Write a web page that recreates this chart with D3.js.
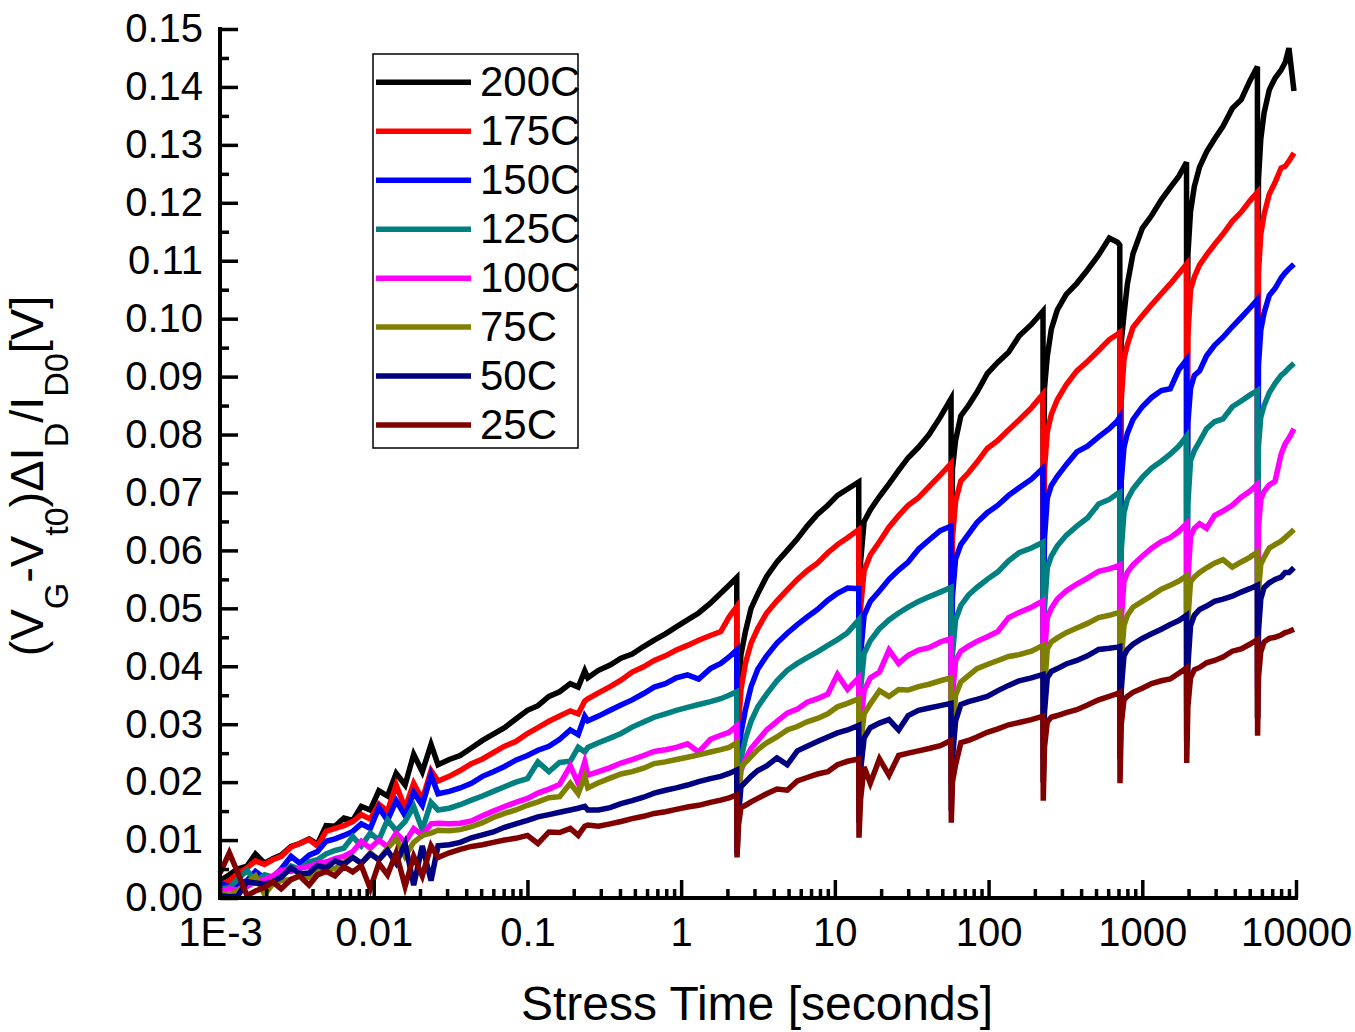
<!DOCTYPE html>
<html>
<head>
<meta charset="utf-8">
<script src="https://cdn.jsdelivr.net/npm/d3@7"></script>
<style>
  body { margin: 0; background: #fff; }
  text { font-family: "Liberation Sans", Arial, sans-serif; fill: #000; }
</style>
</head>
<body>
<svg id="chart" width="1355" height="1032"></svg>
<script>
// stress time grid shared by all curves (seconds)
const stressTime = [
  0.001,0.00115,0.0013,0.0015,0.0017,0.00195,0.0022,0.0025,0.0029,0.0033,0.0038,0.0043,0.0049,0.0056,0.0064,0.0073,0.0083,0.0095,0.0108,0.0123,0.014,0.016,0.0182,0.0207,0.0236,
  0.0262,0.031,0.0365,0.0432,0.051,0.06,0.071,0.084,0.1,0.117,0.138,0.162,0.19,0.214,0.236,
  0.247,0.29,0.345,0.406,0.48,0.57,0.668,0.79,0.93,1.1,1.3,1.55,1.81,2.05,2.3,
  2.31,2.36,2.45,2.62,2.85,3.15,3.6,4.2,4.9,5.7,6.6,7.7,9.0,10.4,12.1,14.3,
  14.35,14.7,15.5,17,19.5,22.5,26,30,35,41,48.5,57,
  57.2,58.2,61,66,74,84,98,115,135,158,190,226,
  226.8,231,241,256,280,320,375,440,520,610,690,714,
  716,730,760,800,870,1000,1150,1330,1520,1730,1940,
  1945,1980,2060,2180,2360,2620,2950,3350,3850,4400,5000,5610,
  5625,5700,5900,6200,6700,7300,8000,8500,9000,9700
];

const v200C = [
  .0030,.0040,.0050,.0055,.0076,.0060,.0068,.0074,.0089,.0094,.0102,.0093,.0125,.0124,.0138,.0134,.0158,.0152,.0185,.0176,.0215,.0195,.0248,.0218,.0265,
  .0230,.0239,.0246,.0259,.0272,.0283,.0294,.0309,.0324,.0332,.0348,.0356,.0370,.0364,.0392,
  .0380,.0393,.0402,.0414,.0421,.0434,.0445,.0456,.0468,.0480,.0492,.0509,.0526,.0540,.0553,
  .0240,.0360,.0420,.0460,.0500,.0525,.0555,.0580,.0600,.0620,.0642,.0662,.0678,.0695,.0706,.0718,
  .0400,.0580,.0650,.0670,.0693,.0715,.0738,.0760,.0778,.0800,.0830,.0862,
  .0450,.0740,.0790,.0832,.0850,.0873,.0905,.0925,.0942,.0970,.0990,.1013,
  .0520,.0880,.0935,.0982,.1015,.1042,.1061,.1084,.1110,.1139,.1132,.1127,
  .0580,.0960,.1007,.1060,.1112,.1156,.1178,.1205,.1226,.1246,.1270,
  .0640,.1110,.1185,.1228,.1262,.1288,.1310,.1332,.1363,.1378,.1410,.1435,
  .0700,.1240,.1310,.1355,.1395,.1415,.1429,.1442,.1467,.1393
];
const v175C = [
  .0022,.0030,.0042,.0052,.0064,.0058,.0066,.0072,.0088,.0094,.0101,.0090,.0115,.0120,.0125,.0132,.0144,.0136,.0162,.0150,.0195,.0155,.0198,.0170,.0220,
  .0202,.0210,.0220,.0232,.0240,.0251,.0262,.0270,.0284,.0294,.0305,.0314,.0323,.0318,.0340,
  .0344,.0354,.0365,.0376,.0390,.0399,.0410,.0418,.0428,.0436,.0445,.0453,.0460,.0485,.0503,
  .0220,.0300,.0360,.0405,.0440,.0465,.0492,.0513,.0532,.0550,.0565,.0578,.0596,.0610,.0622,.0636,
  .0340,.0500,.0565,.0592,.0615,.0640,.0660,.0678,.0691,.0710,.0730,.0750,
  .0360,.0620,.0685,.0720,.0734,.0752,.0776,.0790,.0808,.0825,.0846,.0870,
  .0400,.0740,.0805,.0835,.0860,.0886,.0910,.0926,.0945,.0964,.0973,.0976,
  .0460,.0860,.0930,.0955,.0985,.1005,.1024,.1043,.1060,.1078,.1094,
  .0500,.0970,.1050,.1072,.1093,.1110,.1128,.1146,.1168,.1184,.1203,.1218,
  .0580,.1080,.1145,.1180,.1215,.1235,.1260,.1263,.1272,.1286
];
const v150C = [
  .0025,.0020,.0024,.0030,.0046,.0034,.0036,.0050,.0072,.0060,.0074,.0080,.0098,.0102,.0108,.0115,.0128,.0120,.0156,.0134,.0168,.0142,.0182,.0160,.0212,
  .0180,.0184,.0190,.0198,.0210,.0218,.0227,.0238,.0246,.0255,.0262,.0274,.0290,.0282,.0314,
  .0306,.0314,.0324,.0333,.0342,.0353,.0364,.0370,.0380,.0385,.0378,.0396,.0405,.0416,.0428,
  .0170,.0220,.0285,.0325,.0365,.0395,.0418,.0440,.0457,.0472,.0485,.0498,.0514,.0526,.0535,.0534,
  .0270,.0420,.0488,.0512,.0530,.0550,.0566,.0580,.0602,.0618,.0634,.0642,
  .0300,.0520,.0585,.0610,.0628,.0648,.0665,.0678,.0695,.0708,.0723,.0742,
  .0360,.0620,.0690,.0712,.0728,.0748,.0770,.0780,.0796,.0810,.0824,.0830,
  .0420,.0720,.0778,.0802,.0826,.0848,.0864,.0876,.0879,.0912,.0929,
  .0480,.0820,.0880,.0902,.0910,.0936,.0954,.0968,.0986,.1002,.1018,.1033,
  .0540,.0920,.0980,.1010,.1040,.1052,.1070,.1079,.1086,.1094
];
const v125C = [
  .0015,.0018,.0032,.0048,.0028,.0040,.0036,.0044,.0055,.0050,.0062,.0066,.0076,.0082,.0086,.0106,.0090,.0112,.0100,.0135,.0116,.0132,.0158,.0118,.0165,
  .0152,.0155,.0161,.0169,.0176,.0184,.0192,.0200,.0206,.0235,.0218,.0234,.0236,.0260,.0252,
  .0260,.0268,.0276,.0284,.0295,.0304,.0312,.0318,.0324,.0329,.0334,.0339,.0344,.0350,.0356,
  .0130,.0180,.0240,.0275,.0305,.0330,.0352,.0375,.0393,.0405,.0415,.0425,.0436,.0446,.0458,.0480,
  .0220,.0360,.0422,.0444,.0465,.0480,.0492,.0502,.0512,.0520,.0528,.0536,
  .0250,.0420,.0480,.0505,.0523,.0536,.0550,.0563,.0582,.0596,.0604,.0614,
  .0300,.0500,.0570,.0590,.0608,.0626,.0642,.0656,.0680,.0688,.0698,.0700,
  .0340,.0600,.0665,.0688,.0706,.0726,.0742,.0754,.0766,.0780,.0797,
  .0380,.0680,.0755,.0772,.0788,.0810,.0822,.0827,.0848,.0858,.0868,.0876,
  .0440,.0780,.0830,.0850,.0872,.0888,.0902,.0908,.0915,.0923
];
const v100C = [
  .0012,.0016,.0014,.0020,.0028,.0032,.0038,.0048,.0046,.0052,.0054,.0060,.0062,.0068,.0072,.0080,.0098,.0086,.0100,.0088,.0112,.0096,.0120,.0108,.0128,
  .0129,.0128,.0129,.0133,.0142,.0150,.0158,.0165,.0172,.0181,.0188,.0196,.0228,.0198,.0235,
  .0212,.0218,.0225,.0233,.0239,.0246,.0253,.0256,.0260,.0266,.0252,.0274,.0281,.0286,.0297,
  .0100,.0170,.0220,.0240,.0258,.0272,.0290,.0305,.0319,.0326,.0338,.0344,.0352,.0386,.0360,.0380,
  .0180,.0300,.0358,.0380,.0390,.0428,.0405,.0419,.0428,.0432,.0442,.0448,
  .0200,.0350,.0410,.0426,.0435,.0443,.0451,.0460,.0484,.0493,.0502,.0513,
  .0240,.0420,.0484,.0500,.0516,.0530,.0542,.0552,.0564,.0568,.0573,.0575,
  .0280,.0480,.0546,.0562,.0575,.0590,.0604,.0615,.0622,.0633,.0646,
  .0320,.0550,.0624,.0638,.0646,.0638,.0660,.0668,.0678,.0692,.0702,.0714,
  .0360,.0640,.0688,.0702,.0713,.0719,.0766,.0784,.0794,.0810
];
const v75C = [
  .0008,.0005,.0012,.0026,.0038,.0006,.0024,.0030,.0032,.0038,.0036,.0044,.0054,.0050,.0062,.0070,.0060,.0078,.0066,.0086,.0102,.0072,.0096,.0108,.0112,
  .0117,.0116,.0118,.0123,.0130,.0139,.0146,.0152,.0160,.0166,.0173,.0175,.0198,.0180,.0210,
  .0190,.0199,.0207,.0214,.0218,.0224,.0232,.0235,.0239,.0243,.0247,.0252,.0256,.0260,.0268,
  .0090,.0170,.0226,.0234,.0244,.0256,.0268,.0278,.0290,.0296,.0304,.0310,.0318,.0330,.0336,.0344,
  .0160,.0260,.0318,.0335,.0358,.0348,.0360,.0359,.0365,.0369,.0375,.0380,
  .0170,.0280,.0350,.0373,.0384,.0396,.0403,.0410,.0417,.0420,.0426,.0436,
  .0200,.0360,.0430,.0442,.0449,.0458,.0466,.0474,.0484,.0488,.0492,.0494,
  .0240,.0410,.0470,.0488,.0502,.0512,.0522,.0533,.0540,.0547,.0556,
  .0270,.0480,.0546,.0554,.0562,.0570,.0578,.0584,.0571,.0580,.0588,.0597,
  .0310,.0530,.0576,.0588,.0604,.0610,.0616,.0622,.0628,.0636
];
const v50C = [
  .0004,.0002,.0003,.0028,.0026,.0024,.0028,.0036,.0052,.0042,.0043,.0056,.0052,.0064,.0058,.0070,.0060,.0076,.0066,.0082,.0060,.0094,.0022,.0090,.0030,
  .0090,.0092,.0096,.0104,.0109,.0114,.0122,.0128,.0134,.0140,.0144,.0148,.0152,.0155,.0158,
  .0152,.0152,.0156,.0163,.0168,.0174,.0181,.0186,.0190,.0195,.0201,.0206,.0210,.0215,.0221,
  .0075,.0140,.0192,.0200,.0210,.0220,.0228,.0242,.0230,.0254,.0262,.0270,.0278,.0285,.0290,.0298,
  .0130,.0220,.0276,.0294,.0302,.0308,.0290,.0315,.0324,.0328,.0332,.0336,
  .0150,.0240,.0305,.0334,.0339,.0343,.0348,.0358,.0367,.0375,.0380,.0386,
  .0200,.0320,.0380,.0391,.0396,.0404,.0410,.0418,.0429,.0431,.0433,.0434,
  .0240,.0360,.0418,.0429,.0438,.0448,.0456,.0464,.0472,.0479,.0488,
  .0270,.0400,.0470,.0488,.0498,.0504,.0512,.0516,.0521,.0528,.0534,.0540,
  .0310,.0460,.0516,.0536,.0544,.0550,.0554,.0562,.0562,.0570
];
const v25C = [
  .0043,.0078,.0045,.0004,.0012,.0018,.0028,.0016,.0032,.0038,.0022,.0040,.0046,.0038,.0054,.0045,.0056,.0016,.0060,.0040,.0078,.0020,.0072,.0038,.0090,
  .0070,.0078,.0084,.0089,.0092,.0096,.0100,.0103,.0108,.0094,.0114,.0113,.0120,.0108,.0124,
  .0126,.0124,.0128,.0132,.0137,.0141,.0146,.0149,.0153,.0157,.0160,.0165,.0169,.0173,.0178,
  .0070,.0125,.0156,.0160,.0166,.0172,.0180,.0188,.0186,.0202,.0208,.0214,.0218,.0230,.0236,.0240,
  .0104,.0170,.0226,.0198,.0240,.0212,.0246,.0250,.0254,.0258,.0263,.0272,
  .0130,.0200,.0230,.0268,.0272,.0278,.0286,.0292,.0299,.0303,.0308,.0314,
  .0168,.0260,.0304,.0312,.0315,.0320,.0325,.0333,.0342,.0348,.0353,.0355,
  .0198,.0300,.0342,.0348,.0355,.0362,.0370,.0375,.0378,.0388,.0397,
  .0233,.0330,.0380,.0394,.0398,.0406,.0410,.0416,.0426,.0430,.0438,.0446,
  .0280,.0380,.0425,.0442,.0448,.0450,.0454,.0458,.0460,.0464
];

const seriesNames = ['200C', '175C', '150C', '125C', '100C', '75C', '50C', '25C'];
const seriesValues = [v200C, v175C, v150C, v125C, v100C, v75C, v50C, v25C];
const seriesColors = ['#000000', '#ff0000', '#0000ff', '#008080', '#ff00ff', '#808000', '#000080', '#800000'];

const yTickValues = [0, 0.01, 0.02, 0.03, 0.04, 0.05, 0.06, 0.07, 0.08, 0.09, 0.10, 0.11, 0.12, 0.13, 0.14, 0.15];
const xTickValues = [1e-3, 1e-2, 1e-1, 1, 10, 100, 1000, 10000];
const xTickLabels = ['1E-3', '0.01', '0.1', '1', '10', '100', '1000', '10000'];

const svg = d3.select('#chart');

const x = d3.scaleLog().domain([1e-3, 1e4]).range([220, 1296]);
const y = d3.scaleLinear().domain([0, 0.15]).range([898, 29]);

// curves, hottest first so the cooler ones sit on top
const line = d3.line()
  .x((d, i) => x(stressTime[i]))
  .y(d => y(d));

svg.append('g').selectAll('path')
  .data(seriesValues)
  .enter()
  .append('path')
  .attr('d', d => line(d))
  .attr('fill', 'none')
  .attr('stroke', (d, i) => seriesColors[i])
  .attr('stroke-width', 5.5);

// minor ticks
const yMinor = yTickValues.slice(0, -1).map(v => v + 0.005);
const xMinor = [];
xTickValues.slice(0, -1).forEach(v => { for (let k = 2; k <= 9; k++) xMinor.push(v * k); });

svg.append('g')
  .attr('transform', 'translate(220,0)')
  .call(d3.axisLeft(y).tickValues(yMinor).tickSize(-9).tickFormat(''))
  .call(g => g.select('.domain').remove())
  .selectAll('line').attr('stroke-width', 3.5);

svg.append('g')
  .attr('transform', 'translate(0,898)')
  .call(d3.axisBottom(x).tickValues(xMinor).tickSize(-9).tickFormat(''))
  .call(g => g.select('.domain').remove())
  .selectAll('line').attr('stroke-width', 3.5);

// major axes
const yAxis = svg.append('g')
  .attr('transform', 'translate(220,0)')
  .call(d3.axisLeft(y).tickValues(yTickValues).tickSizeInner(-18).tickSizeOuter(0)
    .tickPadding(17).tickFormat(d3.format('.2f')));
yAxis.select('.domain').attr('stroke-width', 4).attr('d', 'M0,900V27');
yAxis.selectAll('line').attr('stroke-width', 3.5);
yAxis.selectAll('text').attr('font-size', 40).attr('font-family', '"Liberation Sans", Arial, sans-serif');

const xAxis = svg.append('g')
  .attr('transform', 'translate(0,898)')
  .call(d3.axisBottom(x).tickValues(xTickValues).tickSizeInner(-18).tickSizeOuter(0)
    .tickPadding(20).tickFormat((d, i) => xTickLabels[i]));
xAxis.select('.domain').attr('stroke-width', 4).attr('d', 'M218,0H1298');
xAxis.selectAll('line').attr('stroke-width', 3.5);
xAxis.selectAll('text').attr('font-size', 40).attr('font-family', '"Liberation Sans", Arial, sans-serif');

// axis titles
svg.append('text')
  .attr('x', 757).attr('y', 1020)
  .attr('text-anchor', 'middle')
  .attr('font-size', 48)
  .text('Stress Time [seconds]');

const yTitle = svg.append('text')
  .attr('transform', 'translate(43,476) rotate(-90)')
  .attr('text-anchor', 'middle')
  .attr('font-size', 47);
const titleParts = [['(V', 0], ['G', 1], ['-V', 0], ['t0', 1], [')\u0394I', 0], ['D', 1], ['/I', 0], ['D0', 1], ['[V]', 0]];
let lowered = false;
titleParts.forEach(([txt, sub]) => {
  const t = yTitle.append('tspan').text(txt);
  if (sub) {
    t.attr('font-size', 34);
    if (!lowered) { t.attr('dy', 25); lowered = true; }
  } else if (lowered) {
    t.attr('dy', -25);
    lowered = false;
  }
});

// legend
const legend = svg.append('g');
legend.append('rect')
  .attr('x', 373).attr('y', 54).attr('width', 205).attr('height', 394)
  .attr('fill', '#fff').attr('stroke', '#000').attr('stroke-width', 1.5);
seriesNames.forEach((name, i) => {
  const ly = 82.3 + i * 48.96;
  legend.append('line')
    .attr('x1', 376).attr('x2', 471).attr('y1', ly).attr('y2', ly)
    .attr('stroke', seriesColors[i]).attr('stroke-width', 5.5);
  legend.append('text')
    .attr('x', 480).attr('y', ly + 14)
    .attr('font-size', 42)
    .text(name);
});
</script>
</body>
</html>
